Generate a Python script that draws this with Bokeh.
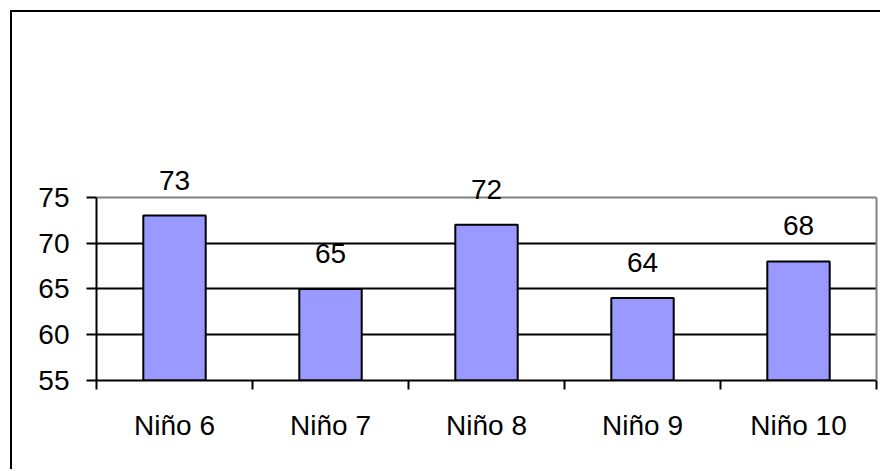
from bokeh.plotting import figure
from bokeh.models import ColumnDataSource, LinearAxis, FixedTicker, LabelSet, Range1d, Grid
from bokeh.core.properties import value
from bokeh.embed import file_html
from bokeh.resources import INLINE

categories = ["Niño 6", "Niño 7", "Niño 8", "Niño 9", "Niño 10"]
values = [73, 65, 72, 64, 68]
y_ticks = [55, 60, 65, 70, 75]

xpos = [i + 0.5 for i in range(len(categories))]
src = ColumnDataSource(dict(x=xpos, top=values, label=[str(v) for v in values]))

FONT = "Liberation Sans"
FS = "28px"
Y0, Y1, YTOP = 55, 75, 80

p = figure(width=870, height=459, output_backend="svg", toolbar_location=None,
           x_range=Range1d(0, len(categories)), y_range=Range1d(Y0, YTOP),
           x_axis_type=None, y_axis_type=None,
           min_border_left=84, min_border_top=139, min_border_right=6, min_border_bottom=91)
p.margin = (10, 0, 0, 10)
p.styles = {"border-left": "2px solid black", "border-top": "2px solid black"}

p.background_fill_color = "white"
p.border_fill_color = "white"
p.outline_line_color = None

p.vbar(x="x", top="top", bottom=Y0, width=0.4, source=src,
       fill_color="#9999FF", line_color="black", line_width=2)

yaxis = LinearAxis(ticker=FixedTicker(ticks=y_ticks), bounds=(Y0, Y1))
yaxis.axis_line_color = "black"
yaxis.axis_line_width = 2
yaxis.major_tick_out = 10
yaxis.major_tick_in = 0
yaxis.major_tick_line_width = 2
yaxis.minor_tick_line_color = None
yaxis.major_label_text_font = FONT
yaxis.major_label_text_font_size = FS
yaxis.major_label_text_color = "black"
yaxis.major_label_standoff = 17
p.add_layout(yaxis, "left")

raxis = LinearAxis(ticker=FixedTicker(ticks=[]), bounds=(Y0, Y1))
raxis.axis_line_color = "#808080"
raxis.axis_line_width = 2
raxis.major_tick_out = 0
raxis.major_tick_in = 0
raxis.major_tick_line_color = None
raxis.minor_tick_line_color = None
raxis.major_label_standoff = 0
raxis.major_label_text_font_size = "0px"
p.add_layout(raxis, "right")

xaxis = LinearAxis(ticker=FixedTicker(ticks=xpos, minor_ticks=list(range(len(categories) + 1))))
xaxis.major_label_overrides = {x: c for x, c in zip(xpos, categories)}
xaxis.axis_line_color = "black"
xaxis.axis_line_width = 2
xaxis.major_tick_line_color = None
xaxis.major_tick_out = 0
xaxis.major_tick_in = 0
xaxis.minor_tick_out = 9
xaxis.minor_tick_in = 0
xaxis.minor_tick_line_color = "black"
xaxis.minor_tick_line_width = 2
xaxis.major_label_text_font = FONT
xaxis.major_label_text_font_size = FS
xaxis.major_label_text_color = "black"
xaxis.major_label_standoff = 20
p.add_layout(xaxis, "below")

p.ygrid.visible = False
p.xgrid.visible = False
g = Grid(dimension=1, ticker=FixedTicker(ticks=[60, 65, 70]))
g.grid_line_color = "black"
g.grid_line_width = 2
p.add_layout(g)
gtop = Grid(dimension=1, ticker=FixedTicker(ticks=[Y1]))
gtop.grid_line_color = "#808080"
gtop.grid_line_width = 2
p.add_layout(gtop)

labels = LabelSet(x="x", y="top", text="label", source=src, text_align="center",
                  text_baseline="bottom", y_offset=26, text_font=value(FONT),
                  text_font_size=value(FS), text_color="black")
p.add_layout(labels)

open("out.html", "w").write(file_html(p, INLINE))
